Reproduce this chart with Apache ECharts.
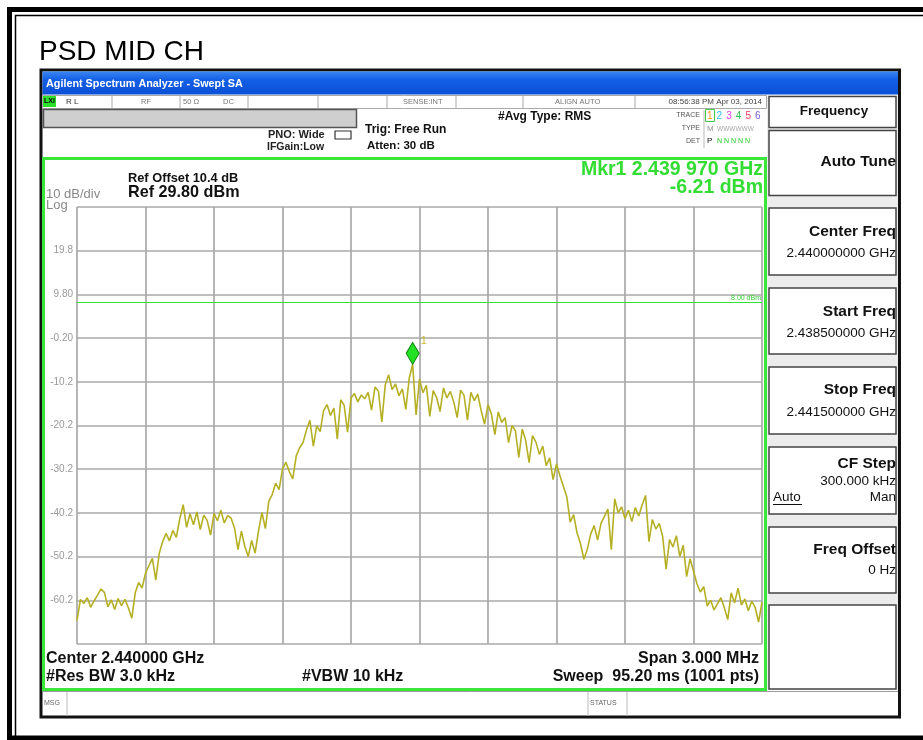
<!DOCTYPE html>
<html>
<head>
<meta charset="utf-8">
<script src="https://cdn.jsdelivr.net/npm/echarts@6/dist/echarts.min.js"></script>
<style>html,body{margin:0;padding:0;background:#fff}#c{width:923px;height:740px}</style>
</head>
<body>
<div id="c"></div>
<script>
// ---- data ----
const startFreqKHz = 0;        // offset from 2.438500 GHz
const spanKHz = 3000;
const stepKHz = 15;            // trace sampled every 15 kHz
const yTicks = [-70.2, -60.2, -50.2, -40.2, -30.2, -20.2, -10.2, -0.2, 9.8, 19.8, 29.8];
const displayLine = 8.00;
const marker = { freqKHz: 1470, level: -6.21 };
const trace = [
 -64.8,-60.0,-60.9,-59.6,-61.8,-60.3,-59.0,-57.6,-58.4,-61.7,
 -60.1,-62.3,-59.8,-61.4,-60.0,-61.9,-64.3,-58.5,-56.1,-57.4,
 -54.0,-52.3,-50.6,-55.6,-49.5,-46.8,-44.9,-46.6,-44.2,-45.8,
 -41.6,-38.3,-43.5,-40.4,-42.9,-40.0,-44.0,-40.7,-41.9,-45.3,
 -40.3,-42.0,-39.6,-42.5,-40.8,-41.4,-43.7,-48.6,-44.4,-47.9,
 -50.2,-46.5,-49.4,-44.3,-40.1,-43.8,-37.5,-36.0,-33.4,-34.9,
 -30.2,-28.6,-30.8,-32.4,-27.2,-25.3,-24.1,-21.2,-19.0,-24.9,
 -20.3,-21.6,-16.8,-15.4,-17.9,-16.2,-23.3,-14.3,-15.6,-21.7,
 -13.9,-12.9,-14.8,-13.2,-14.1,-12.6,-16.7,-11.4,-12.3,-19.4,
 -10.9,-8.6,-12.0,-10.7,-13.4,-11.8,-16.5,-9.4,-6.21,-17.8,
 -9.6,-12.7,-11.0,-18.1,-12.2,-13.8,-17.0,-11.6,-13.9,-12.4,
 -14.8,-18.4,-12.1,-13.3,-19.0,-12.6,-14.5,-13.0,-16.8,-19.9,
 -15.4,-17.6,-22.3,-17.1,-19.5,-18.4,-24.1,-20.2,-21.4,-27.5,
 -21.0,-23.6,-28.7,-22.5,-24.0,-26.8,-24.9,-29.4,-27.6,-32.6,
 -29.0,-31.7,-34.1,-36.5,-42.3,-40.6,-44.8,-47.2,-50.8,-48.5,
 -45.0,-43.1,-46.4,-42.6,-41.0,-39.3,-48.6,-37.0,-40.2,-38.8,
 -41.5,-39.6,-42.2,-39.0,-40.9,-38.4,-36.2,-46.8,-41.7,-43.9,
 -42.6,-45.6,-53.1,-46.3,-48.0,-45.4,-50.2,-47.6,-54.8,-50.7,
 -53.5,-56.4,-58.3,-57.1,-61.5,-60.2,-62.4,-61.0,-59.6,-61.9,
 -64.6,-58.5,-60.8,-57.4,-61.3,-59.9,-62.6,-60.4,-61.8,-65.2,
 -60.6
];

// ---- drawing ----
const F = "'Liberation Sans', Arial, sans-serif";
const els = [];
function T(text, x, y, size, o) {
  o = o || {};
  els.push({ type: 'text', x: x, y: y, z: 50, silent: true, style: {
    text: text, fill: o.color || '#000',
    font: (o.weight || 'normal') + ' ' + size + 'px ' + (o.family || F),
    textAlign: o.align || 'left', textVerticalAlign: 'middle' } });
}
function R(x, y, w, h, fill, stroke, lw, z) {
  els.push({ type: 'rect', z: z == null ? 1 : z, silent: true, shape: { x: x, y: y, width: w, height: h },
    style: { fill: fill || 'none', stroke: stroke || 'none', lineWidth: lw || 1 } });
}
function L(x1, y1, x2, y2, c, lw, z) {
  els.push({ type: 'line', z: z == null ? 5 : z, silent: true, shape: { x1: x1, y1: y1, x2: x2, y2: y2 },
    style: { stroke: c, lineWidth: lw || 1 } });
}

// page frame
R(9.5, 9.5, 940, 728.5, null, '#000', 5, 60);
els.push({ type: 'polyline', z: 60, silent: true, shape: { points: [[15.5, 740], [15.5, 15.5], [923, 15.5]] }, style: { stroke: '#000', lineWidth: 1.5, fill: 'none' } });
T('PSD MID CH', 39, 52, 28, { family: "Arial, 'Liberation Sans', sans-serif" });

// screenshot window
R(41, 70, 858.5, 647, '#fff', '#111', 3, 0);
els.push({ type: 'rect', z: 2, silent: true, shape: { x: 42.5, y: 71.5, width: 855.5, height: 23 },
  style: { fill: new echarts.graphic.LinearGradient(0, 0, 0, 1, [
    { offset: 0, color: '#3a86f2' }, { offset: 0.35, color: '#1460e6' }, { offset: 1, color: '#0a4fd6' }]) } });
T('Agilent Spectrum Analyzer - Swept SA', 46, 84, 10.8, { color: '#fff', weight: 'bold' });

// status row
R(42.5, 95.5, 724, 13, '#fff', '#aaa', 1, 2);
[112, 180, 248, 318, 387, 456, 523, 635].forEach(x => L(x, 95.5, x, 108.5, '#aaa', 1, 3));
R(43, 96, 13, 11, '#2ee02e', null, 1, 4);
T('LXI', 44, 101.5, 7, { weight: 'bold' });
const sc = '#777';
T('R L', 66, 101.5, 8, { color: '#333' });
T('RF', 141, 101.5, 7.5, { color: sc });
T('50 Ω', 183, 101.5, 7.5, { color: sc });
T('DC', 223, 101.5, 7.5, { color: sc });
T('SENSE:INT', 403, 101.5, 7.5, { color: sc });
T('ALIGN AUTO', 555, 101.5, 7.5, { color: sc });
T('08:56:38 PM Apr 03, 2014', 762, 101.5, 8, { color: '#444', align: 'right' });

// gray bar and header texts
R(43.5, 109.5, 313, 18, '#cfcfcf', '#555', 1.5, 2);
T('PNO: Wide', 268, 135, 11, { weight: 'bold', color: '#222' });
R(335, 131, 16, 8, null, '#333', 1.2, 4);
T('IFGain:Low', 267, 147, 10.5, { weight: 'bold', color: '#222' });
T('Trig: Free Run', 365, 130, 12, { weight: 'bold', color: '#111' });
T('Atten: 30 dB', 367, 146, 11.5, { weight: 'bold', color: '#111' });
T('#Avg Type: RMS', 498, 117, 12, { weight: 'bold', color: '#111' });
T('TRACE', 700, 115, 7, { color: '#555', align: 'right' });
T('TYPE', 700, 128, 7, { color: '#555', align: 'right' });
T('DET', 700, 141, 7, { color: '#555', align: 'right' });
L(704, 110, 704, 148, '#bbb', 1, 3);
R(705.5, 109.5, 9, 12, null, '#4c4', 1, 4);
const tc = ['#f39a1e', '#2ec5e6', '#e040e0', '#30c050', '#f04060', '#7060e0'];
['1', '2', '3', '4', '5', '6'].forEach((d, i) => T(d, 707 + i * 9.6, 116, 10, { color: tc[i] }));
T('M', 707, 129, 8, { color: '#999' });
T('WWWWWW', 717, 129, 6.5, { color: '#aaa' });
T('P', 707, 141, 8, { color: '#111' });
T('N N N N N', 717, 141, 7, { color: '#2c2' });

// right soft-key panel
R(767, 95.5, 131, 594.5, '#ececec', null, 1, 1);
function box(y1, y2) { R(769, y1, 127, y2 - y1, '#fff', '#444', 1.5, 2); }
box(96.5, 127.5); box(130.5, 195.5); box(208, 275); box(288, 354); box(367, 434);
box(447, 514); box(527, 593); box(605, 689);
const kb = 15.5, kv = 13.5;
T('Frequency', 834, 111.5, 13.5, { weight: 'bold', align: 'center', color: '#111' });
T('Auto Tune', 896, 162, kb, { weight: 'bold', align: 'right', color: '#111' });
T('Center Freq', 896, 232, kb, { weight: 'bold', align: 'right', color: '#111' });
T('2.440000000 GHz', 896, 253, kv, { align: 'right', color: '#111' });
T('Start Freq', 896, 312, kb, { weight: 'bold', align: 'right', color: '#111' });
T('2.438500000 GHz', 896, 333, kv, { align: 'right', color: '#111' });
T('Stop Freq', 896, 390, kb, { weight: 'bold', align: 'right', color: '#111' });
T('2.441500000 GHz', 896, 412, kv, { align: 'right', color: '#111' });
T('CF Step', 896, 464, kb, { weight: 'bold', align: 'right', color: '#111' });
T('300.000 kHz', 896, 481, kv, { align: 'right', color: '#111' });
T('Auto', 773, 497, kv, { color: '#111' });
L(773, 504.5, 802, 504.5, '#111', 1, 51);
T('Man', 896, 497, kv, { align: 'right', color: '#111' });
T('Freq Offset', 896, 550, kb, { weight: 'bold', align: 'right', color: '#111' });
T('0 Hz', 896, 570, kv, { align: 'right', color: '#111' });

// message row
L(42.5, 691.5, 898, 691.5, '#999', 1, 3);
[67, 588, 627].forEach(x => L(x, 692, x, 716, '#bbb', 1, 3));
T('MSG', 44, 703, 7, { color: '#666' });
T('STATUS', 590, 703, 7, { color: '#666' });

// green measurement frame
R(43.5, 158.5, 722, 531, null, '#3ae63a', 3, 20);
T('Ref Offset 10.4 dB', 128, 178, 12.8, { weight: 'bold', color: '#111' });
T('Ref 29.80 dBm', 128, 193, 16.2, { weight: 'bold', color: '#111' });
T('10 dB/div', 46, 194, 13, { color: '#888' });
T('Log', 46, 205, 13, { color: '#888' });
const gc = '#33dd33';
T('Mkr1 2.439 970 GHz', 763, 170, 19.5, { weight: 'bold', color: gc, align: 'right' });
T('-6.21 dBm', 763, 188, 19.5, { weight: 'bold', color: gc, align: 'right' });
T('Center 2.440000 GHz', 46, 659, 16, { weight: 'bold', color: '#111' });
T('#Res BW 3.0 kHz', 46, 677, 16, { weight: 'bold', color: '#111' });
T('#VBW 10 kHz', 302, 677, 16, { weight: 'bold', color: '#111' });
T('Span 3.000 MHz', 759, 659, 16, { weight: 'bold', color: '#111', align: 'right' });
T('Sweep  95.20 ms (1001 pts)', 759, 677, 16, { weight: 'bold', color: '#111', align: 'right' });

const seriesData = trace.map((v, i) => [startFreqKHz + i * stepKHz, v]);
const chart = echarts.init(document.getElementById('c'), null, { renderer: 'canvas' });
chart.setOption({
  backgroundColor: '#fff',
  animation: false,
  graphic: { elements: els },
  grid: { left: 77, top: 207, width: 685, height: 437, show: true, borderColor: '#858585', borderWidth: 2, backgroundColor: 'transparent' },
  xAxis: {
    type: 'value', min: startFreqKHz, max: startFreqKHz + spanKHz, interval: 300,
    axisLine: { show: false }, axisTick: { show: false }, axisLabel: { show: false },
    splitLine: { show: true, lineStyle: { color: '#a9a9a9', width: 1.7 } }
  },
  yAxis: {
    type: 'value', min: yTicks[0], max: yTicks[yTicks.length - 1], interval: 10,
    axisLine: { show: false }, axisTick: { show: false },
    splitLine: { show: true, lineStyle: { color: '#a9a9a9', width: 1.7 } },
    axisLabel: {
      show: true, color: '#999', fontSize: 10, fontFamily: F, margin: 4,
      showMinLabel: false, showMaxLabel: false,
      formatter: function (v) { return Math.abs(v) >= 10 ? v.toFixed(1) : v.toFixed(2); }
    }
  },
  series: [{
    type: 'line', data: seriesData, symbol: 'none', silent: true,
    lineStyle: { color: '#b5b023', width: 1.6 },
    markLine: {
      silent: true, symbol: ['none', 'none'],
      data: [{ yAxis: displayLine }],
      lineStyle: { color: '#33e233', width: 1, type: 'solid' },
      label: { show: true, position: 'insideEndTop', formatter: '8.00 dBm', color: '#33d033', fontSize: 7, distance: 1 }
    },
    markPoint: {
      silent: true,
      data: [{ coord: [marker.freqKHz, marker.level], name: '1' }],
      symbol: 'diamond', symbolSize: [13, 22], symbolOffset: [0, -11],
      itemStyle: { color: '#22e022', borderColor: '#0b7a0b', borderWidth: 1 },
      label: { show: true, formatter: '1', position: [15, -6], color: '#c8b830', fontSize: 11, fontFamily: F }
    }
  }]
});
</script>
</body>
</html>
